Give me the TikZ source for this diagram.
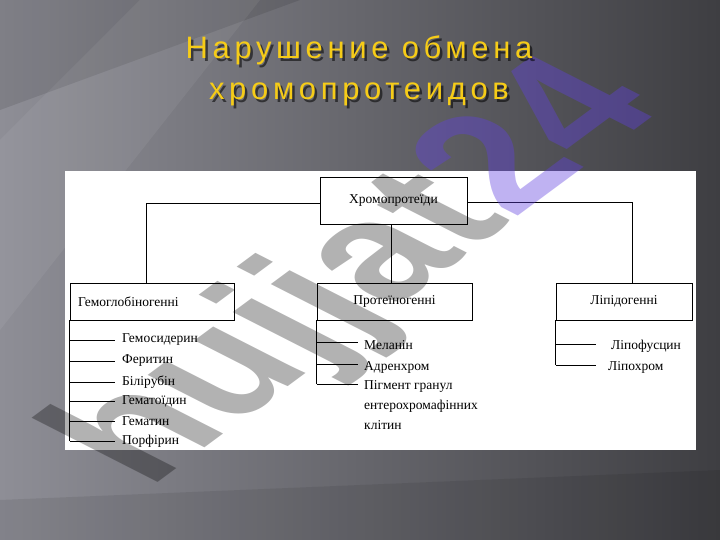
\documentclass[tikz,border=0pt]{standalone}
\usepackage{fontspec}
\setmainfont{Liberation Serif}
\newfontfamily\titlefont[LetterSpace=15]{Liberation Sans}
\newfontfamily\wmfont{Liberation Sans}
\definecolor{bgL}{RGB}{142,142,150}
\definecolor{bgR}{RGB}{62,62,66}
\definecolor{gold}{RGB}{246,204,24}
\definecolor{wmpurple}{RGB}{96,64,224}
\tikzset{
  box/.style={draw=black, line width=0.9pt, fill=white, inner sep=0pt, minimum height=37pt},
  lbl/.style={font=\fontsize{13.5}{20}\selectfont, inner sep=0pt, anchor=west, align=left},
  conn/.style={draw=black, line width=0.8pt},
  ttl/.style={font=\titlefont\fontsize{31}{33}\selectfont, inner sep=0pt, anchor=base},
}
\begin{document}
\begin{tikzpicture}[x=1pt,y=-1pt]
\useasboundingbox (0,0) rectangle (720,540);
\shade[left color=bgL, right color=bgR] (0,0) rectangle (720,540);
\fill[black, opacity=0.10] (0,0) -- (300,0) -- (0,110) -- cycle;
\fill[white, opacity=0.06] (0,140) -- (140,0) -- (260,0) -- (0,330) -- cycle;
\fill[black, opacity=0.08] (0,540) -- (720,540) -- (720,470) -- (0,500) -- cycle;
% panel
\fill[white] (65,171) rectangle (696,450);
% boxes
\node[box, minimum width=147pt, minimum height=47pt, font=\fontsize{13.5}{16}\selectfont] (root) at (393.5,200.5) {Хромопротеїди};
\node[box, minimum width=164pt, text width=148pt, inner xsep=8pt, align=left, font=\fontsize{13.5}{16}\selectfont] (g) at (152,301.5) {Гемоглобіногенні};
\node[box, minimum width=155pt, font=\fontsize{13.5}{16}\selectfont] (p) at (394.5,301.5) {Протеїногенні};
\node[box, minimum width=136pt, font=\fontsize{13.5}{16}\selectfont] (l) at (624,301.5) {Ліпідогенні};
\draw[conn] ([yshift=-2.5pt]root.west) -| ([xshift=-6pt]g.north);
\draw[conn] ([yshift=-1.5pt]root.east) -| ([xshift=8pt]l.north);
\draw[conn] ([xshift=-2.5pt]root.south) -- ([xshift=-2.5pt]root.south |- p.north);
% items of g
\node[lbl] (g1) at (122,340) {Гемосидерин};
\node[lbl] (g2) at (122,361) {Феритин};
\node[lbl] (g3) at (122,382) {Білірубін};
\node[lbl] (g4) at (122,401) {Гематоїдин};
\node[lbl] (g5) at (122,421) {Гематин};
\node[lbl] (g6) at (122,441) {Порфірин};
\draw[conn] (g.south west) -- (g.south west |- g6.west);
\foreach \i in {1,...,6} {\draw[conn] (g.south west |- g\i.west) -- ([xshift=-7pt]g\i.west);}
% items of p
\node[lbl] (p1) at (364,345) {Меланін};
\node[lbl] (p2) at (364,367) {Адренхром};
\node[lbl, anchor=north west] (p3) at (364,380) {Пігмент гранул\\ентерохромафінних\\клітин};
\draw[conn] (p.south west) -- (p.south west |- 0,384);
\draw[conn] ([yshift=2.5pt]p.south west |- p1.west) -- ([yshift=2.5pt, xshift=-6pt]p1.west);
\draw[conn] ([yshift=2.5pt]p.south west |- p2.west) -- ([yshift=2.5pt, xshift=-6pt]p2.west);
\draw[conn] (p.south west |- 0,384) -- ([xshift=-6pt]p3.west |- 0,384);
% items of l
\node[lbl] (l1) at (611,346) {Ліпофусцин};
\node[lbl] (l2) at (608,367) {Ліпохром};
\draw[conn] (l.south west) -- ([yshift=2pt]l.south west |- l2.west);
\draw[conn] ([yshift=2pt]l.south west |- l1.west) -- ([yshift=2pt, xshift=-15pt]l1.west);
\draw[conn] ([yshift=2pt]l.south west |- l2.west) -- ([yshift=2pt, xshift=-12pt]l2.west);
% watermark
\begin{scope}[cm={0.855,0.632,-1.087,0.554,(148,490)}]
\node[anchor=base west, inner sep=0pt, transform shape, text=black, opacity=0.3,
  font=\wmfont\bfseries\fontsize{160}{160}\selectfont] (wm1) at (0,0) {hujjat};
\node[anchor=base west, inner sep=0pt, transform shape, text=wmpurple, opacity=0.4,
  font=\wmfont\bfseries\fontsize{160}{160}\selectfont] (wm2) at (wm1.base east) {24};
\end{scope}
% title
\node[ttl, text=black, opacity=0.55] (t1s) at (361.5,61.5) {Нарушение обмена};
\node[ttl, text=black, opacity=0.55] (t2s) at (361.5,102.5) {хромопротеидов};
\node[ttl, text=gold] (t1) at (359,59) {Нарушение обмена};
\node[ttl, text=gold] (t2) at (359,100) {хромопротеидов};
\end{tikzpicture}
\end{document}
